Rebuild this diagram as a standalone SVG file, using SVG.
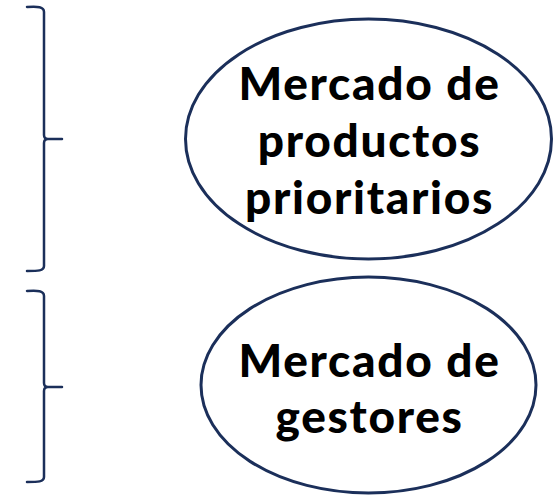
<svg xmlns="http://www.w3.org/2000/svg" width="560" height="497" viewBox="0 0 560 497">
<style>
.brace{fill:none;stroke:#1b2f5a;stroke-width:2.5;stroke-linecap:round;stroke-linejoin:round}
.node{fill:#fff;stroke:#1b2f5a;stroke-width:3}
.lbl{font-family:Lato,"Open Sans",sans-serif;font-weight:900;font-size:46px;letter-spacing:1.7px;fill:#000;text-anchor:middle}
</style>
<rect width="560" height="497" fill="#fff"/>
<g id="connectors">
<path class="brace" d="M27,7 C38,6 44,7 44,12 L44,135 Q44,139 48,139 L62,139 M48,139 Q44,139 44,143 L44,266 C44,271 38,271 27,271"/>
<path class="brace" d="M27,291 C38,290 44,291 44,296 L44,383 Q44,387 48,387 L62,387 M48,387 Q44,387 44,391 L44,477 C44,482 38,482 27,482"/>
</g>
<g id="node1">
<ellipse class="node" cx="368.5" cy="139" rx="183" ry="120"/>
<text class="lbl" x="369.5" y="100">Mercado de</text>
<text class="lbl" x="369.5" y="157">productos</text>
<text class="lbl" x="369.5" y="214">prioritarios</text>
</g>
<g id="node2">
<ellipse class="node" cx="368.5" cy="385" rx="167.5" ry="108"/>
<text class="lbl" x="369.5" y="377">Mercado de</text>
<text class="lbl" x="369.5" y="433">gestores</text>
</g>
</svg>
